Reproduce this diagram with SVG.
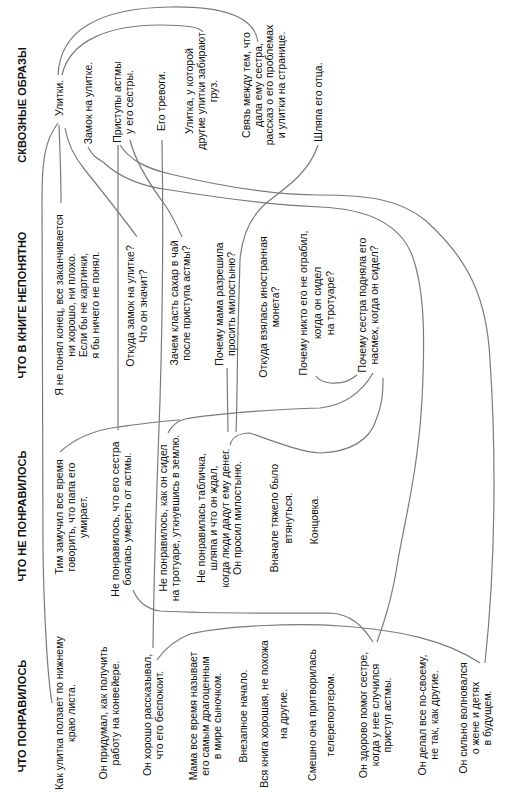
<svg xmlns="http://www.w3.org/2000/svg" width="508" height="800" viewBox="0 0 508 800">
<style>
text{font-family:"Liberation Sans",Arial,sans-serif;font-size:10.5px;fill:#111;text-anchor:middle}
.h{font-weight:bold;font-size:11px}
.c path{fill:none;stroke:#7a7a7a;stroke-width:1.2}
</style>
<rect width="508" height="800" fill="#fff"/>
<g class="c" id="connectors">
<path d="M58,75 C60,30 100,8 170,7 C230,6 255,20 258,42"/>
<path d="M62,75 C70,40 110,25 160,25 C185,25 200,27 203,32"/>
<path d="M58,123 C45,140 42,160 42,200 L43,550 C44,620 48,680 52,703"/>
<path d="M59,125 C60,150 61,180 61,203"/>
<path d="M65,128 C68,145 75,158 85,170 C105,195 125,220 137,237"/>
<path d="M120,145 C130,160 145,168 170,174 C220,186 270,195 320,195 C370,195 400,200 425,220 C470,260 487,300 490,360 C496,450 496,560 485,663"/>
<path d="M88,147 C92,155 96,158 103,162 C120,178 145,187 170,190 C220,198 270,205 320,207 C370,209 400,225 412,255 C425,290 425,340 422,400 C418,470 405,520 398,560 C392,600 383,625 377,642"/>
<path d="M130,140 C135,160 150,185 165,205 C172,215 178,228 182,237"/>
<path d="M118,145 L118,200 C118,300 118,380 118,430"/>
<path d="M162,140 C163,200 163,300 160,400 C157,480 154,560 153,648"/>
<path d="M133,590 C138,602 146,609 160,611 C220,614 290,613 330,613 C350,614 362,625 373,642"/>
<path d="M157,660 C165,648 175,640 190,634 C230,625 300,623 340,626 C400,630 445,640 480,663"/>
<path d="M60,452 C75,438 95,430 118,427 C140,424 160,421 180,420"/>
<path d="M168,433 C172,425 178,421 185,419 C220,413 280,409 320,408 C345,405 362,392 373,373"/>
<path d="M230,445 C232,437 240,433 250,433 C270,440 300,452 320,453 C350,452 370,440 376,420 C382,405 383,395 383,378"/>
<path d="M357,375 C350,381 340,384 330,383 C322,382 318,379 316,376"/>
<path d="M227,368 L228,432"/>
<path d="M318,145 C310,170 290,185 270,200 C250,215 242,235 240,260 L238,330 C237,380 237,410 236,432"/>
</g>
<g transform="translate(0,800) rotate(-90)">
<g id="h1"><text class="h" x="84" y="26">ЧТО ПОНРАВИЛОСЬ</text></g>
<g id="h2"><text class="h" x="284" y="26">ЧТО НЕ ПОНРАВИЛОСЬ</text></g>
<g id="h3"><text class="h" x="495" y="26">ЧТО В КНИГЕ НЕПОНЯТНО</text></g>
<g id="h4"><text class="h" x="695" y="26">СКВОЗНЫЕ ОБРАЗЫ</text></g>

<g id="p1"><text x="87" y="63">Как улитка ползает по нижнему</text><text x="87" y="75">краю листа.</text></g>
<g id="p2"><text x="87" y="107">Он придумал, как получить</text><text x="87" y="119">работу на конвейере.</text></g>
<g id="p3"><text x="85" y="151">Он хорошо рассказывал,</text><text x="85" y="163">что его беспокоит.</text></g>
<g id="p4"><text x="84" y="197">Мама все время называет</text><text x="84" y="209">его самым драгоценным</text><text x="84" y="221">в мире сыночком.</text></g>
<g id="p5"><text x="84" y="247">Внезапное начало.</text></g>
<g id="p6"><text x="86" y="268">Вся книга хорошая, не похожа</text><text x="86" y="287">на другие.</text></g>
<g id="p7"><text x="85" y="316">Смешно она притворилась</text><text x="85" y="334">телерепортером.</text></g>
<g id="p8"><text x="85" y="367">Он здорово помог сестре,</text><text x="85" y="379">когда у нее случился</text><text x="85" y="391">приступ астмы.</text></g>
<g id="p9"><text x="85" y="426">Он делал все по-своему,</text><text x="85" y="438">не так, как другие.</text></g>
<g id="p10"><text x="82" y="467">Он сильно волновался</text><text x="82" y="479">о жене и детях</text><text x="82" y="491">в будущем.</text></g>

<g id="n1"><text x="283" y="63">Тим замучил все время</text><text x="283" y="75">говорить, что папа его</text><text x="283" y="87">умирает.</text></g>
<g id="n2"><text x="281" y="119">Не понравилось, что его сестра</text><text x="281" y="131">боялась умереть от астмы.</text></g>
<g id="n3"><text x="282" y="167">Не понравилось, как он сидел</text><text x="282" y="179">на тротуаре, уткнувшись в землю.</text></g>
<g id="n4"><text x="282" y="205">Не понравилась табличка,</text><text x="282" y="217">шляпа и что он ждал,</text><text x="282" y="229">когда люди дадут ему денег.</text><text x="282" y="241">Он просил милостыню.</text></g>
<g id="n5"><text x="282" y="278">Вначале тяжело было</text><text x="282" y="292">втянуться.</text></g>
<g id="n6"><text x="280" y="318">Концовка.</text></g>

<g id="q1"><text x="495" y="63">Я не понял конец, все заканчивается</text><text x="495" y="75">ни хорошо, ни плохо.</text><text x="495" y="87">Если бы не картинки,</text><text x="495" y="99">я бы ничего не понял.</text></g>
<g id="q2"><text x="494" y="134">Откуда замок на улитке?</text><text x="494" y="147">Что он значит?</text></g>
<g id="q3"><text x="497" y="178">Зачем класть сахар в чай</text><text x="497" y="190">после приступа астмы?</text></g>
<g id="q4"><text x="496" y="223">Почему мама разрешила</text><text x="496" y="235">просить милостыню?</text></g>
<g id="q5"><text x="493" y="267">Откуда взялась иностранная</text><text x="493" y="279">монета?</text></g>
<g id="q6"><text x="497" y="307">Почему никто его не ограбил,</text><text x="497" y="321">когда он сидел</text><text x="497" y="334">на тротуаре?</text></g>
<g id="q7"><text x="495" y="366">Почему сестра подняла его</text><text x="495" y="378">насмех, когда он сидел?</text></g>

<g id="s1"><text x="702" y="63">Улитки.</text></g>
<g id="s2"><text x="697" y="92">Замок на улитке.</text></g>
<g id="s3"><text x="698" y="121">Приступы астмы</text><text x="698" y="133">у его сестры.</text></g>
<g id="s4"><text x="699" y="165">Его тревоги.</text></g>
<g id="s5"><text x="709" y="193">Улитка, у которой</text><text x="709" y="205">другие улитки забирают</text><text x="709" y="217">груз.</text></g>
<g id="s6"><text x="715" y="250">Связь между тем, что</text><text x="715" y="262">дала ему сестра,</text><text x="715" y="273">рассказ о его проблемах</text><text x="715" y="285">и улитки на странице.</text></g>
<g id="s7"><text x="698" y="322">Шляпа его отца.</text></g>
</g>
</svg>
